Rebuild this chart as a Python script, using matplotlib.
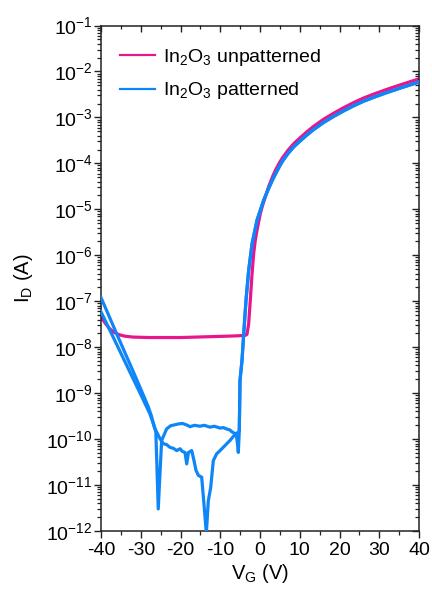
import numpy as np
import matplotlib
matplotlib.use("Agg")
import matplotlib.pyplot as plt
from matplotlib.ticker import FixedLocator, FixedFormatter, MultipleLocator, LogLocator, NullFormatter

plt.rcParams['font.family'] = ['Liberation Sans', 'DejaVu Sans']
plt.rcParams['mathtext.fontset'] = 'custom'
plt.rcParams['mathtext.rm'] = 'Liberation Sans'
plt.rcParams['mathtext.it'] = 'Liberation Sans'
plt.rcParams['mathtext.default'] = 'regular'

# ---------------- data (log10 of I_D in A) ----------------
# In2O3 unpatterned (both sweeps overlap)
unpat_vg = [-40, -39, -38, -37, -36, -35, -34, -32, -28, -24, -20, -16, -12, -8, -5,
            -3.6, -3.27, -2.85, -2.44, -2.0, -1.59, -1.2, -0.76, 0.08, 0.7, 1.34, 2.2,
            3.2, 4.0, 4.8, 5.6, 7, 8.5, 10, 11.7, 13.4, 16, 18.5, 21, 23.5, 26, 29, 31.9,
            35, 37.5, 40]
unpat_log = [-7.33, -7.47, -7.58, -7.66, -7.71, -7.74, -7.76, -7.78, -7.79, -7.79, -7.79,
             -7.78, -7.77, -7.76, -7.75, -7.74, -7.72, -7.49, -6.98, -6.40, -5.96, -5.68,
             -5.46, -5.09, -4.90, -4.73, -4.50, -4.28, -4.13, -4.00, -3.885, -3.72, -3.57,
             -3.45, -3.32, -3.20, -3.04, -2.91, -2.79, -2.68, -2.58, -2.48, -2.39, -2.30,
             -2.23, -2.16]

# In2O3 patterned, sweep A (starts at 1.2e-7, noisy lower off-branch)
patA_vg = [-40, -36, -32, -30, -28.1, -27.3, -26.6, -25.7, -25.16, -24.33, -23.5, -22.64,
           -21.8, -20.96, -20.13, -19.5, -18.87, -18.44, -18.0, -17.18, -16.6, -16.1,
           -15.5, -14.67, -14.1, -13.5, -13.0, -12.4, -11.75, -10.9, -10.06, -8.8, -7.55,
           -6.7, -6.04, -5.4, -5.21]
patA_log = [-6.92, -7.72, -8.51, -8.91, -9.30, -9.50, -9.74, -9.90, -9.99, -10.10, -10.12,
            -10.18, -10.20, -10.25, -10.21, -10.27, -10.29, -10.54, -10.29, -10.25, -10.47,
            -10.68, -10.79, -10.83, -11.41, -12.05, -11.34, -11.05, -10.47, -10.32, -10.25,
            -10.14, -10.03, -9.94, -9.88, -9.85, -9.81]

# In2O3 patterned, sweep B (starts at 5.9e-8, spike then upper off-branch)
patB_vg = [-40, -36, -32.9, -30, -27.7, -26.6, -26.2, -25.6, -24.75, -23.5, -22.5, -21.5,
           -20.5, -19.5, -18.5, -17.6, -16.5, -15.1, -14.0, -12.6, -11.5, -10.06, -9.2,
           -8.4, -7.6, -7.1, -6.3, -5.88, -5.6, -5.46, -5.3, -5.21]
patB_log = [-7.23, -7.95, -8.51, -9.03, -9.45, -9.72, -9.85, -11.52, -10.03, -9.78, -9.71,
            -9.69, -9.67, -9.66, -9.69, -9.73, -9.70, -9.72, -9.70, -9.74, -9.72, -9.76,
            -9.75, -9.78, -9.80, -9.84, -9.88, -9.95, -10.15, -10.29, -10.00, -9.81]

# shared on-state part of the patterned device
pat_on_vg = [-5.03, -4.53, -4.1, -3.52, -2.85, -2.0, -0.76, 0.93, 2.2, 3.2, 4.2, 5.0, 5.6,
             7, 8.5, 10, 11.7, 13.4, 16, 18.5, 21, 23.5, 26, 29, 31.9, 35, 37.5, 40]
pat_on_log = [-8.72, -8.29, -7.71, -6.98, -6.33, -5.75, -5.24, -4.80, -4.54, -4.35, -4.18,
              -4.05, -3.96, -3.79, -3.64, -3.52, -3.39, -3.27, -3.11, -2.98, -2.86, -2.75,
              -2.65, -2.55, -2.46, -2.37, -2.30, -2.23]

x_ticks = [-40, -30, -20, -10, 0, 10, 20, 30, 40]
x_ticklabels = ['-40', '-30', '-20', '-10', '0', '10', '20', '30', '40']
y_exps = [-12, -11, -10, -9, -8, -7, -6, -5, -4, -3, -2, -1]
y_ticklabels = [r'$10^{%d}$' % e for e in y_exps]

labels = [r'In$_2$O$_3$ unpatterned', r'In$_2$O$_3$ patterned']
c_pink = '#E8168C'
c_blue = '#0F86F7'

# ---------------- figure ----------------
fig = plt.figure(figsize=(4.32, 5.89), dpi=100)
ax = fig.add_axes([101/432, 1-531/589, 318/432, 505.5/589])

lw = 2.3
ax.plot(unpat_vg, 10**np.array(unpat_log), color=c_pink, lw=lw, label=labels[0],
        solid_joinstyle='round', zorder=2)
ax.plot(patA_vg + pat_on_vg, 10**np.array(patA_log + pat_on_log), color=c_blue, lw=lw,
        label=labels[1], solid_joinstyle='round', zorder=3)
ax.plot(patB_vg + pat_on_vg, 10**np.array(patB_log + pat_on_log), color=c_blue, lw=lw,
        solid_joinstyle='round', zorder=3)

ax.set_yscale('log')
ax.set_xlim(-40, 40)
ax.set_ylim(1e-12, 1e-1)

ax.xaxis.set_major_locator(FixedLocator(x_ticks))
ax.xaxis.set_major_formatter(FixedFormatter(x_ticklabels))
ax.xaxis.set_minor_locator(MultipleLocator(5))
ax.yaxis.set_major_locator(FixedLocator([10.0**e for e in y_exps]))
ax.yaxis.set_major_formatter(FixedFormatter(y_ticklabels))
ax.yaxis.set_minor_locator(LogLocator(base=10, subs=np.arange(2, 10), numticks=30))
ax.yaxis.set_minor_formatter(NullFormatter())

fs = 14
ax.tick_params(axis='both', which='both', direction='out', labelsize=fs, colors='#222222',
               labelcolor='black')
ax.tick_params(which='major', length=5, width=1.0)
ax.tick_params(which='minor', length=3, width=0.9)
ax.tick_params(axis='x', pad=3)
ax.tick_params(axis='y', pad=1)

# mirrored in-pointing ticks on top and right
secx = ax.secondary_xaxis('top')
secx.xaxis.set_major_locator(FixedLocator(x_ticks))
secx.xaxis.set_minor_locator(MultipleLocator(5))
secx.tick_params(which='both', direction='in', labeltop=False, colors='#222222')
secx.tick_params(which='major', length=5, width=1.0)
secx.tick_params(which='minor', length=3, width=0.9)
secy = ax.secondary_yaxis('right')
secy.yaxis.set_major_locator(FixedLocator([10.0**e for e in y_exps]))
secy.yaxis.set_minor_locator(LogLocator(base=10, subs=np.arange(2, 10), numticks=30))
secy.yaxis.set_minor_formatter(NullFormatter())
secy.tick_params(which='both', direction='in', labelright=False, colors='#222222')
secy.tick_params(which='major', length=5, width=1.0)
secy.tick_params(which='minor', length=3, width=0.9)
for s in list(secx.spines.values()) + list(secy.spines.values()):
    s.set_visible(False)

for s in ax.spines.values():
    s.set_linewidth(1.1)
    s.set_color('#222222')

ax.set_xlabel(r'V$_G$ (V)', fontsize=14.5, labelpad=2)
ax.set_ylabel(r'I$_D$ (A)', fontsize=14.5, labelpad=8)

leg = ax.legend(loc='upper left', bbox_to_anchor=(0.024, 0.981), frameon=False, fontsize=14,
                handlelength=1.8, handletextpad=0.4, labelspacing=0.65, borderaxespad=0.2)
for l in leg.get_lines():
    l.set_linewidth(1.6)

fig.savefig('out.png', dpi=100)
